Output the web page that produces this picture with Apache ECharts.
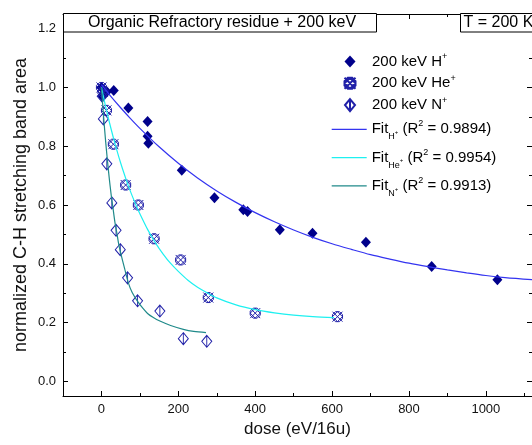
<!DOCTYPE html>
<html><head><meta charset="utf-8">
<script src="https://cdn.jsdelivr.net/npm/echarts@6/dist/echarts.min.js"></script>
<style>html,body{margin:0;padding:0;background:#fff}#c{width:532px;height:445px}</style>
</head><body><div id="c"></div>
<script>
// ---- data ----
const hDose = [0, 2, 8, 14, 32, 70, 120, 120, 122, 209, 294, 369, 380, 464, 549, 688, 859, 1030];
const hVal  = [1.0, 0.97, 0.99, 0.985, 0.99, 0.93, 0.884, 0.834, 0.81, 0.718, 0.625, 0.584, 0.578, 0.516, 0.504, 0.473, 0.391, 0.346];

const heDose = [0, 4, 13, 31, 63, 96, 137, 206, 278, 400, 614];
const heVal  = [1.0, 0.985, 0.922, 0.807, 0.668, 0.6, 0.485, 0.413, 0.285, 0.232, 0.22];

const nDose = [2, 5, 14, 27, 38, 49, 68, 94, 152, 213, 274];
const nVal  = [0.97, 0.893, 0.74, 0.607, 0.514, 0.448, 0.352, 0.274, 0.239, 0.145, 0.136];

// fitted curves
const fitHDose = [0, 25, 50, 75, 100, 150, 200, 250, 300, 350, 400, 450, 500, 550, 600, 650, 700, 750, 800, 850, 900, 950, 1000, 1050, 1120];
const fitHVal  = [1.01, 0.969, 0.931, 0.895, 0.861, 0.798, 0.742, 0.692, 0.648, 0.609, 0.574, 0.543, 0.515, 0.49, 0.468, 0.449, 0.431, 0.416, 0.402, 0.39, 0.379, 0.369, 0.36, 0.353, 0.346];

const fitHeDose = [0, 10, 20, 30, 40, 50, 60, 70, 80, 90, 100, 120, 140, 160, 180, 200, 225, 250, 275, 300, 350, 400, 450, 500, 550, 605];
const fitHeVal  = [1.0, 0.94, 0.885, 0.834, 0.787, 0.743, 0.703, 0.665, 0.631, 0.599, 0.57, 0.517, 0.472, 0.434, 0.401, 0.374, 0.344, 0.32, 0.301, 0.284, 0.26, 0.244, 0.233, 0.225, 0.22, 0.217];

const fitNDose = [0, 5, 10, 15, 20, 25, 30, 35, 40, 45, 50, 60, 70, 80, 94, 107, 120, 135, 152, 180, 213, 240, 272];
const fitNVal  = [1.0, 0.911, 0.83, 0.759, 0.695, 0.638, 0.59, 0.542, 0.505, 0.466, 0.437, 0.385, 0.335, 0.302, 0.272, 0.25, 0.231, 0.217, 0.205, 0.19, 0.177, 0.17, 0.166];

const xMajor = [0, 200, 400, 600, 800, 1000];
const xMinor = [100, 300, 500, 700, 900, 1100];
const yMajor = [0, 0.2, 0.4, 0.6, 0.8, 1.0, 1.2];
const yMinor = [0.1, 0.3, 0.5, 0.7, 0.9, 1.1];

const seriesNames = ['200 keV H+', '200 keV He+', '200 keV N+'];
const fitNames = ['FitH', 'FitHe', 'FitN'];
const r2 = ['0.9894', '0.9954', '0.9913'];
const titleText = 'Organic Refractory residue + 200 keV';
const tempText = 'T = 200 K';

// ---- chart ----
const FONT = '"Liberation Sans", Arial, sans-serif';
const pair = (xs, ys) => xs.map((x, i) => [x, ys[i]]);
const X_MIN = -100, X_MAX = 1120, Y_MIN = -0.05, Y_MAX = 1.25;

function xAx(pos, ticks, len, withLine, withLabel, name) {
  return {
    type: 'value', position: pos, min: X_MIN, max: X_MAX,
    splitLine: { show: false },
    axisLine: { show: withLine, onZero: false, lineStyle: { color: '#000', width: 1 } },
    axisTick: { show: true, inside: true, length: len, customValues: ticks, lineStyle: { color: '#000', width: 1 } },
    axisLabel: withLabel ? { show: true, customValues: ticks, margin: 7, color: '#111', fontSize: 13, fontFamily: FONT,
      formatter: v => String(Math.round(v)) } : { show: false },
    name: name || '', nameLocation: 'middle', nameGap: 25, nameMoveOverlap: false,
    nameTextStyle: { fontSize: 17, fontFamily: FONT, color: '#111' }
  };
}
function yAx(pos, ticks, len, withLine, withLabel, name) {
  return {
    type: 'value', position: pos, min: Y_MIN, max: Y_MAX,
    splitLine: { show: false },
    axisLine: { show: withLine, onZero: false, lineStyle: { color: '#000', width: 1 } },
    axisTick: { show: true, inside: true, length: len, customValues: ticks, lineStyle: { color: '#000', width: 1 } },
    axisLabel: withLabel ? { show: true, customValues: ticks, margin: 7, color: '#111', fontSize: 13, fontFamily: FONT,
      formatter: v => v.toFixed(1) } : { show: false },
    name: name || '', nameLocation: 'middle', nameGap: 33, nameMoveOverlap: false,
    nameTextStyle: { fontSize: 18, fontFamily: FONT, color: '#111' }
  };
}

const HE_SYMBOL = 'path://M3,0L7,0L10,3L10,7L7,10L3,10L0,7L0,3Z M0,5L5,0 M0,10L10,0 M5,10L10,5 M0,5L5,10 M0,0L10,10 M5,0L10,5';
const N_SYMBOL = 'path://M5,0L10,6L5,12L0,6Z M5,0L5,12';
const NAVY = '#00008b';
const MARK = '#2020a8';

const richA = {
  first: { fontSize: 15, lineHeight: 18, verticalAlign: 'middle', padding: [0, 0, 0, 11.5], fontFamily: FONT, color: '#000' },
  sup: { fontSize: 9, lineHeight: 10, verticalAlign: 'top', fontFamily: FONT, color: '#000' }
};
const richB = {
  m: { fontSize: 15, lineHeight: 24, verticalAlign: 'middle', fontFamily: FONT, color: '#000' },
  sup: { fontSize: 9, lineHeight: 10, verticalAlign: 'top', padding: [2, 0, 0, 0], fontFamily: FONT, color: '#000' },
  sub: { fontSize: 9, lineHeight: 10, verticalAlign: 'bottom', fontFamily: FONT, color: '#000' },
  subsup: { fontSize: 6, lineHeight: 7, verticalAlign: 'bottom', padding: [0, 0, 6, 0], fontFamily: FONT, color: '#000' }
};
const subLabel = { FitH: 'H', FitHe: 'He', FitN: 'N' };
const fitColors = ['#3434f0', '#1ef0f0', '#208a8a'];

const option = {
  animation: false,
  grid: { left: 63, right: -1, top: 14, bottom: 49 },
  xAxis: [
    xAx('bottom', xMajor, 5, true, true, 'dose (eV/16u)'),
    xAx('bottom', xMinor, 3, false, false),
    xAx('top', xMajor, 5, true, false),
    xAx('top', xMinor, 3, false, false)
  ],
  yAxis: [
    yAx('left', yMajor, 5, true, true, 'normalized C-H stretching band area'),
    yAx('left', yMinor, 3, false, false),
    yAx('right', yMajor, 5, true, false),
    yAx('right', yMinor, 3, false, false)
  ],
  legend: [
    {
      data: seriesNames, orient: 'vertical', left: 343.5, top: 52.5, padding: 0,
      itemWidth: 11, itemHeight: 12, itemGap: 5.3,
      textStyle: { fontFamily: FONT, fontSize: 15, color: '#000', rich: richA },
      formatter: n => '{first|' + n.slice(0, -1) + '}{sup|+}'
    },
    {
      data: fitNames.map((n, i) => ({ name: n, icon: 'rect', itemStyle: { color: fitColors[i] } })),
      orient: 'vertical', left: 331.7, top: 117.3, padding: 0,
      itemWidth: 35, itemHeight: 1.3, itemGap: 4.3,
      textStyle: { fontFamily: FONT, fontSize: 15, color: '#000', rich: richB },
      formatter: n => '{m|Fit}{sub|' + subLabel[n] + '}{subsup|+}{m| (R}{sup|2}{m| = ' + r2[fitNames.indexOf(n)] + ')}'
    }
  ],
  series: [
    { name: 'FitH', type: 'line', data: pair(fitHDose, fitHVal), smooth: 0.3, symbol: 'none',
      lineStyle: { color: fitColors[0], width: 1.2 }, itemStyle: { color: fitColors[0] } },
    { name: 'FitHe', type: 'line', data: pair(fitHeDose, fitHeVal), smooth: 0.3, symbol: 'none',
      lineStyle: { color: fitColors[1], width: 1.2 }, itemStyle: { color: fitColors[1] } },
    { name: 'FitN', type: 'line', data: pair(fitNDose, fitNVal), smooth: 0.3, symbol: 'none',
      lineStyle: { color: fitColors[2], width: 1.2 }, itemStyle: { color: fitColors[2] } },
    { name: seriesNames[0], type: 'scatter', data: pair(hDose, hVal), symbol: 'diamond', symbolSize: [10, 11],
      itemStyle: { color: NAVY, opacity: 1 } },
    { name: seriesNames[1], type: 'scatter', data: pair(heDose, heVal), symbol: HE_SYMBOL, symbolSize: 10,
      itemStyle: { color: 'rgba(255,255,255,0)', borderColor: MARK, borderWidth: 1, opacity: 1 } },
    { name: seriesNames[2], type: 'scatter', data: pair(nDose, nVal), symbol: N_SYMBOL, symbolSize: [10, 12],
      itemStyle: { color: 'rgba(255,255,255,0)', borderColor: MARK, borderWidth: 1, opacity: 1 } }
  ],
  graphic: [
    { type: 'rect', shape: { x: 63.5, y: 13.5, width: 313, height: 18.5 }, style: { fill: '#fff', stroke: '#000', lineWidth: 1 }, z: 100 },
    { type: 'text', x: 222, y: 23, style: { text: titleText, font: '16px ' + FONT, fill: '#000', textAlign: 'center', textVerticalAlign: 'middle' }, z: 101 },
    { type: 'rect', shape: { x: 460.5, y: 13.5, width: 90, height: 18.5 }, style: { fill: '#fff', stroke: '#000', lineWidth: 1 }, z: 100 },
    { type: 'text', x: 463.5, y: 23, style: { text: tempText, font: '16px ' + FONT, fill: '#000', textAlign: 'left', textVerticalAlign: 'middle' }, z: 101 }
  ]
};
const chart = echarts.init(document.getElementById('c'), null, { renderer: 'canvas' });
chart.setOption(option);
</script>
</body></html>
